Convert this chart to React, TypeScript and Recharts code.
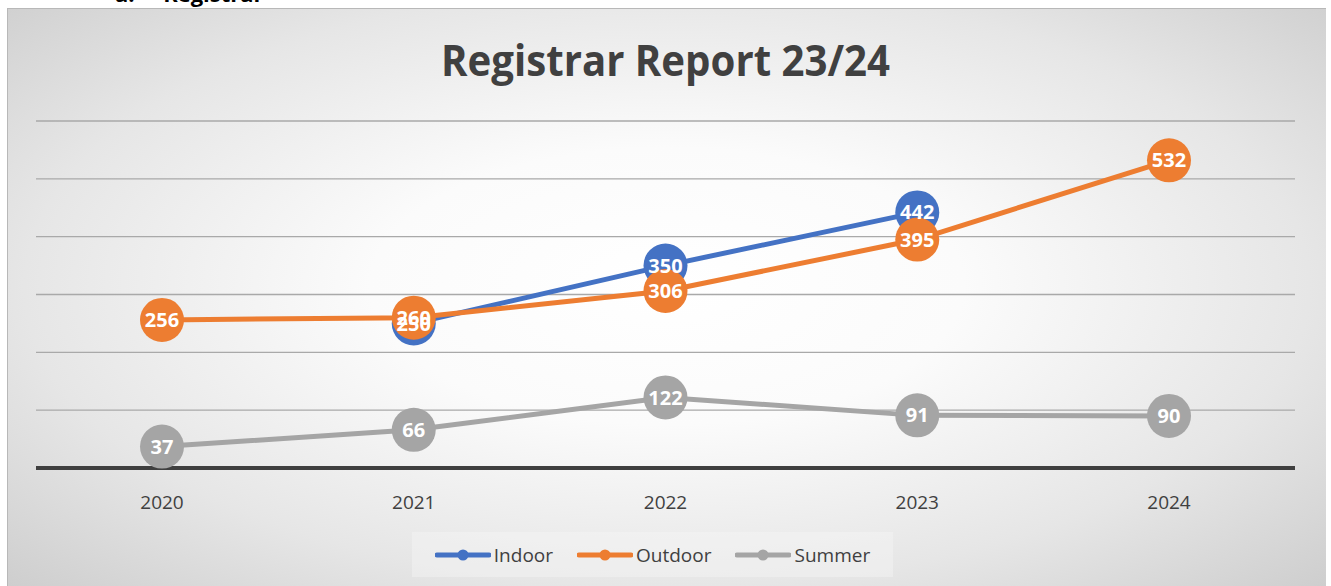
import { LineChart, Line, XAxis, YAxis, CartesianGrid, LabelList } from "recharts";

const years = ["2020", "2021", "2022", "2023", "2024"];
const indoor = [null, 250, 350, 442, null];
const outdoor = [256, 260, 306, 395, 532];
const summer = [37, 66, 122, 91, 90];
const yTicks = [0, 100, 200, 300, 400, 500, 600];

const seriesNames = ["Indoor", "Outdoor", "Summer"];
const seriesColors = ["#4472C4", "#ED7D31", "#A5A5A5"];

const data = years.map((year, i) => ({
  year,
  Indoor: indoor[i],
  Outdoor: outdoor[i],
  Summer: summer[i],
}));

const FONT = "'Open Sans', 'Noto Sans', sans-serif";

function ChartLegend() {
  return (
    <div
      style={{
        position: "absolute",
        left: 412,
        top: 532,
        width: 481,
        height: 45,
        background: "rgba(250,250,250,0.35)",
        display: "flex",
        alignItems: "center",
        justifyContent: "center",
        gap: 24,
        fontFamily: FONT,
        fontSize: 19,
        color: "#404040",
      }}
    >
      {seriesNames.map((name, i) => (
        <div key={name} style={{ display: "flex", alignItems: "center" }}>
          <svg width={56} height={14} style={{ marginRight: 3 }}>
            <line x1={2} y1={7} x2={54} y2={7} stroke={seriesColors[i]} strokeWidth={5} strokeLinecap="round" />
            <circle cx={28} cy={7} r={5.5} fill={seriesColors[i]} />
          </svg>
          <span>{name}</span>
        </div>
      ))}
    </div>
  );
}

export default function App() {
  return (
    <div
      style={{
        position: "absolute",
        left: 0,
        top: 0,
        width: 1331,
        height: 586,
        overflow: "hidden",
        background: "#ffffff",
      }}
    >
      <div
        style={{
          position: "absolute",
          left: 115,
          top: -18,
          fontFamily: FONT,
          fontWeight: 700,
          fontSize: 22,
          lineHeight: "22px",
          color: "#000",
          whiteSpace: "pre",
        }}
      >
        a.{"     "}Registrar
      </div>
      <div
        style={{
          position: "absolute",
          left: 7,
          top: 8,
          width: 1319,
          height: 578,
          boxSizing: "border-box",
          borderTop: "1px solid #b8b8b8",
          borderLeft: "1px solid #b8b8b8",
          background:
            "radial-gradient(ellipse 75% 80% at 50% 48%, #ffffff 0%, #fbfbfb 30%, #e6e6e6 65%, #c8c8c8 100%)",
        }}
      />
      <svg style={{ position: "absolute", left: 0, top: 0 }} width={1331} height={110}>
        <text
          x={665.5}
          y={76}
          textAnchor="middle"
          textLength={449}
          lengthAdjust="spacingAndGlyphs"
          fontFamily={FONT}
          fontWeight={700}
          fontSize={43}
          fill="#404040"
        >
          Registrar Report 23/24
        </text>
      </svg>
      <div style={{ position: "absolute", left: 0, top: 0 }}>
        <LineChart
          width={1331}
          height={586}
          data={data}
          margin={{ top: 121, right: 36, left: 36, bottom: 0 }}
        >
          <CartesianGrid horizontal vertical={false} stroke="#a9a9a9" strokeWidth={1.3} />
          <YAxis hide domain={[0, 600]} ticks={yTicks} />
          <XAxis
            dataKey="year"
            height={118}
            padding={{ left: 126, right: 126 }}
            tickLine={false}
            axisLine={{ stroke: "#3f3f3f", strokeWidth: 4 }}
            tickMargin={22}
            tick={{ fill: "#404040", fontSize: 19, fontFamily: FONT }}
          />
          {seriesNames.map((name, i) => (
            <Line
              key={name}
              dataKey={name}
              stroke={seriesColors[i]}
              strokeWidth={5}
              isAnimationActive={false}
              dot={{ r: 22, fill: seriesColors[i], stroke: seriesColors[i], strokeWidth: 0 }}
              activeDot={false}
            >
              <LabelList
                dataKey={name}
                position="center"
                fill="#ffffff"
                fontSize={20}
                fontWeight={700}
                fontFamily={FONT}
              />
            </Line>
          ))}
        </LineChart>
      </div>
      <ChartLegend />
    </div>
  );
}
